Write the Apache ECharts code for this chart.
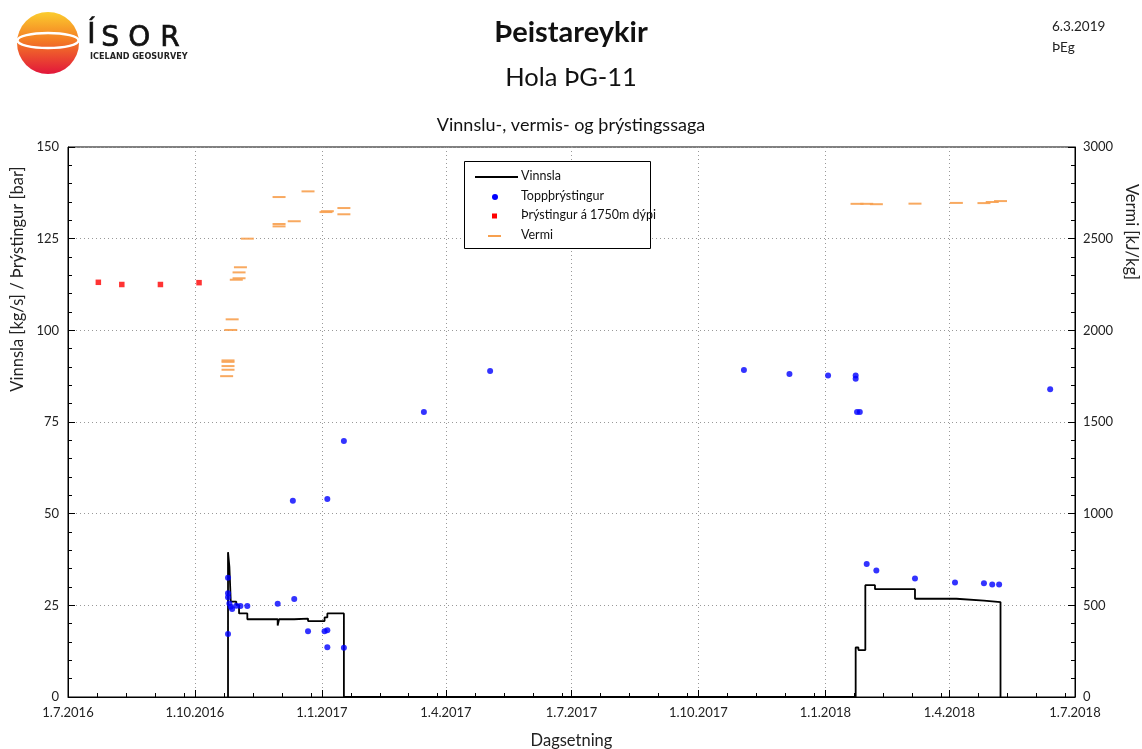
<!DOCTYPE html>
<html>
<head>
<meta charset="utf-8">
<title>Þeistareykir – Hola ÞG-11</title>
<script src="https://cdn.jsdelivr.net/npm/echarts@6/dist/echarts.min.js"></script>
<style>
  html, body { margin: 0; padding: 0; background: #fff; }
  #chart { width: 1142px; height: 749px; }
</style>
</head>
<body>
<div id="chart"></div>
<script>
// Quarter dates used for major ticks, labels and vertical grid lines
const quarterTicks = ['2016-07-01', '2016-10-01', '2017-01-01', '2017-04-01', '2017-07-01',
                      '2017-10-01', '2018-01-01', '2018-04-01', '2018-07-01'];

// Vinnsla [kg/s] – production, each value holds until the next date
const vinnsla = [
  ['2016-10-25', 0], ['2016-10-25', 39.5], ['2016-10-26', 35.5], ['2016-10-27', 26.0],
  ['2016-10-31', 25.1], ['2016-11-02', 22.8], ['2016-11-08', 21.2], ['2016-11-30', 19.5],
  ['2016-12-01', 21.2], ['2016-12-12', 21.4], ['2016-12-22', 20.7], ['2017-01-03', 21.7],
  ['2017-01-05', 22.8], ['2017-01-17', 0],
  ['2018-01-23', 0], ['2018-01-23', 13.5], ['2018-01-25', 12.8], ['2018-01-30', 30.5],
  ['2018-02-06', 29.4], ['2018-03-07', 26.8], ['2018-04-06', 26.3], ['2018-04-26', 25.9],
  ['2018-05-08', 0]
];

// Toppþrýstingur [bar] – wellhead pressure
const toppthrystingur = [
  ['2016-10-25', 32.5], ['2016-10-25', 28.3], ['2016-10-25', 27.2], ['2016-10-25', 17.2],
  ['2016-10-26', 25.5], ['2016-10-27', 24.6], ['2016-10-28', 24.0], ['2016-10-31', 24.9],
  ['2016-11-03', 24.8], ['2016-11-08', 24.8], ['2016-11-30', 25.4], ['2016-12-12', 26.7],
  ['2016-12-11', 53.5], ['2016-12-22', 17.9], ['2017-01-03', 17.9], ['2017-01-05', 18.2],
  ['2017-01-05', 13.6], ['2017-01-05', 54.0], ['2017-01-17', 13.4], ['2017-01-17', 69.8],
  ['2017-03-16', 77.7], ['2017-05-03', 88.9], ['2017-11-03', 89.2], ['2017-12-06', 88.1],
  ['2018-01-03', 87.7], ['2018-01-23', 87.7], ['2018-01-23', 86.8], ['2018-01-24', 77.7],
  ['2018-01-26', 77.7], ['2018-01-31', 36.3], ['2018-02-07', 34.5], ['2018-03-07', 32.3],
  ['2018-04-05', 31.2], ['2018-04-26', 31.0], ['2018-05-02', 30.7], ['2018-05-07', 30.7],
  ['2018-06-13', 83.9]
];

// Þrýstingur á 1750m dýpi [bar]
const thrystingur1750 = [
  ['2016-07-23', 113.1], ['2016-08-09', 112.5], ['2016-09-06', 112.5], ['2016-10-04', 113.0]
];

// Vermi [kJ/kg] – enthalpy
const vermi = [
  ['2016-10-24', 1750], ['2016-10-25', 1785], ['2016-10-25', 1805], ['2016-10-25', 1828],
  ['2016-10-25', 1836], ['2016-10-27', 2002], ['2016-10-28', 2060], ['2016-10-31', 2276],
  ['2016-11-02', 2284], ['2016-11-02', 2316], ['2016-11-03', 2344], ['2016-11-08', 2500],
  ['2016-12-01', 2567], ['2016-12-01', 2580], ['2016-12-01', 2727], ['2016-12-12', 2595],
  ['2016-12-22', 2758], ['2017-01-04', 2645], ['2017-01-05', 2650], ['2017-01-17', 2633],
  ['2017-01-17', 2667], ['2018-01-24', 2690], ['2018-01-31', 2690], ['2018-02-07', 2688],
  ['2018-03-07', 2691], ['2018-04-06', 2695], ['2018-04-26', 2694], ['2018-05-02', 2700],
  ['2018-05-08', 2705]
];

const FONT = 'Lato, "Open Sans", sans-serif';
const DAY = 24 * 3600 * 1000;
const toTime = s => +echarts.time.parse(s);
const asTime = rows => rows.map(r => [toTime(r[0]), r[1]]);
const majorTimes = quarterTicks.map(toTime);

// minor ticks every three weeks, restarting at each quarter
const minorTimes = [];
for (let i = 0; i < majorTimes.length - 1; i++) {
  for (let t = majorTimes[i] + 21 * DAY; t < majorTimes[i + 1] - 2 * DAY; t += 21 * DAY) {
    minorTimes.push(t);
  }
}

const fmtDate = v => {
  const d = new Date(v);
  return d.getDate() + '.' + (d.getMonth() + 1) + '.' + d.getFullYear();
};

const chart = echarts.init(document.getElementById('chart'), null, { renderer: 'canvas' });

const GRID_H = 749 - 147 - 52;
const dotted = { color: '#999', width: 1, type: [1, 3] };

// Legend rows drawn as graphic elements
const legendItems = [
  { name: 'Vinnsla', y: 177 },
  { name: 'Toppþrýstingur', y: 197 },
  { name: 'Þrýstingur á 1750m dýpi', y: 216 },
  { name: 'Vermi', y: 236 }
];

const option = {
  backgroundColor: '#fff',
  animation: false,
  textStyle: { fontFamily: FONT },
  title: [
    { text: 'Þeistareykir', left: 'center', top: 13,
      textStyle: { fontFamily: FONT, fontSize: 29, fontWeight: 'bold', color: '#111' } },
    { text: 'Hola ÞG-11', left: 'center', top: 60,
      textStyle: { fontFamily: FONT, fontSize: 25.5, fontWeight: 'normal', color: '#111' } },
    { text: 'Vinnslu-, vermis- og þrýstingssaga', left: 'center', top: 111,
      textStyle: { fontFamily: FONT, fontSize: 18, fontWeight: 'normal', color: '#111' } },
    { text: '6.3.2019', left: 1047, top: 15,
      textStyle: { fontFamily: FONT, fontSize: 13.5, fontWeight: 'normal', color: '#222' } },
    { text: 'ÞEg', left: 1047, top: 36,
      textStyle: { fontFamily: FONT, fontSize: 13.5, fontWeight: 'normal', color: '#222' } }
  ],
  grid: {
    left: 68, right: 67, top: 147, bottom: 52,
    outerBoundsMode: 'none', containLabel: false,
    show: true, borderColor: '#000', borderWidth: 1, backgroundColor: 'transparent'
  },
  xAxis: [
    {
      type: 'value', position: 'bottom',
      min: majorTimes[0], max: majorTimes[majorTimes.length - 1],
      name: 'Dagsetning', nameLocation: 'middle', nameGap: 35,
      nameTextStyle: { fontFamily: FONT, fontSize: 16.5, color: '#222' },
      axisLine: { show: true, lineStyle: { color: '#000', width: 1 } },
      axisTick: { show: true, inside: true, length: 7, customValues: majorTimes,
                  lineStyle: { color: '#000' } },
      axisLabel: { show: true, customValues: majorTimes, formatter: fmtDate, margin: 9,
                   fontFamily: FONT, fontSize: 13, color: '#222' },
      splitLine: { show: true, customValues: majorTimes, lineStyle: dotted },
      minorTick: { show: false }
    },
    {
      // carries only the three-week minor ticks, moved down onto the bottom edge
      type: 'value', position: 'top', offset: -GRID_H,
      min: majorTimes[0], max: majorTimes[majorTimes.length - 1],
      axisLine: { show: false },
      axisTick: { show: true, inside: false, length: 4, customValues: minorTimes,
                  lineStyle: { color: '#000' } },
      axisLabel: { show: false },
      splitLine: { show: false }
    }
  ],
  yAxis: [
    {
      type: 'value', min: 0, max: 150, interval: 25, position: 'left',
      axisLine: { show: true, lineStyle: { color: '#000' } },
      axisTick: { show: true, inside: true, length: 7, lineStyle: { color: '#000' } },
      minorTick: { show: true, splitNumber: 5, length: 4, lineStyle: { color: '#000' } },
      axisLabel: { margin: 9, fontFamily: FONT, fontSize: 13, color: '#222' },
      splitLine: { show: true, lineStyle: dotted }
    },
    {
      type: 'value', min: 0, max: 3000, interval: 500, position: 'right',
      axisLine: { show: true, lineStyle: { color: '#000' } },
      axisTick: { show: true, inside: true, length: 7, lineStyle: { color: '#000' } },
      minorTick: { show: true, splitNumber: 5, length: 4, lineStyle: { color: '#000' } },
      axisLabel: { margin: 8, fontFamily: FONT, fontSize: 13, color: '#222',
                   formatter: v => String(v) },
      splitLine: { show: false }
    }
  ],
  series: [
    {
      name: 'Vermi', type: 'scatter', xAxisIndex: 0, yAxisIndex: 1,
      symbol: 'rect', symbolSize: [13, 2],
      itemStyle: { color: '#f7a04f', opacity: 0.9 },
      data: asTime(vermi), z: 3
    },
    {
      name: 'Vinnsla', type: 'line', xAxisIndex: 0, yAxisIndex: 0,
      step: 'end', showSymbol: false, symbol: 'none',
      lineStyle: { color: '#000', width: 1.8 },
      data: asTime(vinnsla), z: 4
    },
    {
      name: 'Þrýstingur á 1750m dýpi', type: 'scatter', xAxisIndex: 0, yAxisIndex: 0,
      symbol: 'rect', symbolSize: 5.5,
      itemStyle: { color: '#ff0000' },
      data: asTime(thrystingur1750), z: 5
    },
    {
      name: 'Toppþrýstingur', type: 'scatter', xAxisIndex: 0, yAxisIndex: 0,
      symbol: 'circle', symbolSize: 6,
      itemStyle: { color: '#0000ff' },
      data: asTime(toppthrystingur), z: 6
    }
  ],
  graphic: [
    // ÍSOR logo
    {
      type: 'circle', shape: { cx: 48, cy: 43, r: 31 },
      style: {
        fill: new echarts.graphic.LinearGradient(0, 0, 0, 1, [
          { offset: 0, color: '#fbcd2e' },
          { offset: 0.45, color: '#f47d24' },
          { offset: 1, color: '#e2163b' }
        ])
      }
    },
    {
      type: 'ellipse', shape: { cx: 48, cy: 40.5, rx: 30.5, ry: 7.5 },
      style: { fill: 'none', stroke: '#fff', lineWidth: 2.4 }
    },
    { type: 'text', left: 87, top: 21, style: { text: 'Í', font: '28px "DejaVu Sans"', fill: '#111', stroke: '#111', lineWidth: 0.7 } },
    { type: 'text', left: 101, top: 24, style: { text: 'S', font: '28px "DejaVu Sans"', fill: '#111', stroke: '#111', lineWidth: 0.7 } },
    { type: 'text', left: 128, top: 24, style: { text: 'O', font: '28px "DejaVu Sans"', fill: '#111', stroke: '#111', lineWidth: 0.7 } },
    { type: 'text', left: 160, top: 24, style: { text: 'R', font: '28px "DejaVu Sans"', fill: '#111', stroke: '#111', lineWidth: 0.7 } },
    { type: 'text', left: 90, top: 52,
      style: { text: 'ICELAND GEOSURVEY', font: 'bold 9px "DejaVu Sans Condensed", "DejaVu Sans"', fill: '#222' } },

    // axis titles
    { type: 'text', x: 18, y: 279, rotation: Math.PI / 2,
      style: { text: 'Vinnsla [kg/s] / Þrýstingur [bar]', font: '16.5px ' + FONT, fill: '#222',
               align: 'center', verticalAlign: 'middle' } },
    { type: 'text', x: 1131, y: 232, rotation: -Math.PI / 2,
      style: { text: 'Vermi [kJ/kg]', font: '16.5px ' + FONT, fill: '#222',
               align: 'center', verticalAlign: 'middle' } },

    // legend frame
    { type: 'rect', left: 464, top: 161, shape: { width: 186, height: 87 },
      style: { fill: '#fff', stroke: '#000', lineWidth: 1 }, z: 50 },
    // legend symbols
    { type: 'rect', left: 475, top: legendItems[0].y - 1, shape: { width: 43, height: 2 },
      style: { fill: '#000' }, z: 51 },
    { type: 'circle', left: 492, top: legendItems[1].y - 3, shape: { r: 3 },
      style: { fill: '#0000ff' }, z: 51 },
    { type: 'rect', left: 492, top: legendItems[2].y - 2.5, shape: { width: 5, height: 5 },
      style: { fill: '#ff0000' }, z: 51 },
    { type: 'rect', left: 488, top: legendItems[3].y - 1, shape: { width: 13, height: 2 },
      style: { fill: '#f7a04f' }, z: 51 }
  ].concat(legendItems.map(it => ({
    type: 'text', left: 521, top: it.y - 8, z: 51,
    style: { text: it.name, font: '12.5px ' + FONT, fill: '#111' }
  })))
};

chart.setOption(option);
</script>
</body>
</html>
